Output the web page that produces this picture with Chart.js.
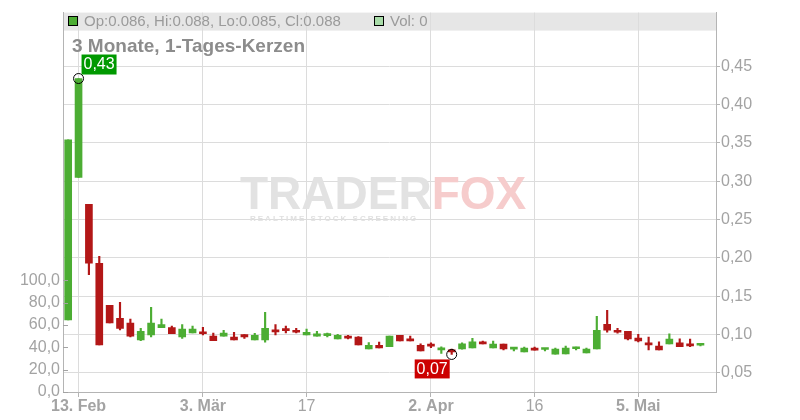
<!DOCTYPE html>
<html>
<head>
<meta charset="utf-8">
<script src="https://cdn.jsdelivr.net/npm/chart.js@4.4.1/dist/chart.umd.min.js"></script>
<style>
  html, body { margin: 0; padding: 0; background: #fff; }
  canvas { display: block; }
</style>
</head>
<body>
<canvas id="chartCanvas" width="800" height="420"></canvas>
<script>
// trading days 12.02. - 13.05.
const dates = ['12.02','13.02','14.02','17.02','18.02','19.02','20.02','21.02','24.02','25.02','26.02','27.02','28.02',
  '03.03','04.03','05.03','06.03','07.03','10.03','11.03','12.03','13.03','14.03','17.03','18.03','19.03','20.03','21.03',
  '24.03','25.03','26.03','27.03','28.03','31.03','01.04','02.04','03.04','04.04','07.04','08.04','09.04','10.04','11.04',
  '14.04','15.04','16.04','17.04','22.04','23.04','24.04','25.04','28.04','29.04','30.04','02.05','05.05','06.05','07.05',
  '08.05','09.05','12.05','13.05'];

const opens = [0.119,0.305,0.270,0.193,0.138,0.121,0.115,0.093,0.0995,0.109,0.109,0.097,0.102,
  0.1035,0.098,0.098,0.0965,0.100,0.093,0.093,0.104,0.1055,0.1056,0.0995,0.098,0.0985,0.0943,0.098,
  0.0965,0.0813,0.086,0.084,0.099,0.0935,0.086,0.0865,0.080,0.0792,0.0813,0.0826,0.090,0.0826,0.0874,
  0.081,0.0774,0.0822,0.0805,0.0744,0.0748,0.0814,0.076,0.0813,0.1134,0.1056,0.1043,0.0952,0.089,0.0848,
  0.0878,0.089,0.0878,0.086];
const highs = [0.354,0.434,0.270,0.202,0.138,0.142,0.120,0.108,0.1355,0.120,0.111,0.113,0.111,
  0.1095,0.102,0.1055,0.103,0.100,0.1017,0.129,0.113,0.111,0.108,0.107,0.104,0.102,0.1004,0.099,
  0.0974,0.0896,0.090,0.0978,0.099,0.098,0.088,0.089,0.084,0.081,0.089,0.095,0.0913,0.0913,0.0874,
  0.0822,0.0835,0.0835,0.081,0.0822,0.0848,0.0835,0.0822,0.1238,0.1316,0.108,0.1043,0.1004,0.0965,0.0904,
  0.1008,0.0943,0.094,0.088];
const lows = [0.119,0.305,0.178,0.0865,0.115,0.106,0.097,0.092,0.097,0.109,0.101,0.095,0.102,
  0.0995,0.092,0.098,0.093,0.095,0.093,0.090,0.0995,0.102,0.102,0.0995,0.098,0.097,0.0943,0.0943,
  0.0865,0.0813,0.0826,0.084,0.0917,0.0917,0.0787,0.083,0.0753,0.074,0.081,0.0826,0.0878,0.0826,0.080,
  0.0787,0.0774,0.0796,0.0787,0.0744,0.0748,0.080,0.076,0.0813,0.103,0.1017,0.093,0.0904,0.080,0.080,
  0.0878,0.084,0.084,0.085];
const closes = [0.354,0.434,0.193,0.0865,0.115,0.108,0.098,0.104,0.115,0.113,0.101,0.107,0.107,
  0.101,0.092,0.102,0.093,0.097,0.099,0.108,0.1035,0.105,0.103,0.103,0.101,0.0995,0.099,0.0953,
  0.0865,0.086,0.0826,0.0978,0.0917,0.0917,0.0787,0.0848,0.081,0.0774,0.0878,0.0904,0.0878,0.0874,0.0813,
  0.082,0.0822,0.0796,0.081,0.081,0.0822,0.0818,0.081,0.1056,0.1056,0.103,0.0943,0.0917,0.0865,0.080,
  0.094,0.084,0.0852,0.088];
const volumes = dates.map(() => 0);

const xTickIdx = [1, 13, 23, 35, 45, 55];
const xTickLabels = ['13. Feb', '3. Mär', '17', '2. Apr', '16', '5. Mai'];
const xTickBold = [true, true, false, true, false, true];
const priceTicks = [0.05, 0.10, 0.15, 0.20, 0.25, 0.30, 0.35, 0.40, 0.45];
const volTicks = [0, 20, 40, 60, 80, 100];

const GREEN = '#4cad33';
const RED = '#b31717';
const GRID = '#dcdcdc';
const AXIS = '#b4b4b4';
const TXT = '#a3a3a3';
const FONT = '"Liberation Sans", Arial, sans-serif';

const colors = opens.map((o, i) => closes[i] >= o ? GREEN : RED);
const idx = dates.map((d, i) => i);

// hi/lo markers with labels
const hiIdx = highs.indexOf(Math.max(...highs));
const loIdx = lows.indexOf(Math.min(...lows));

const fmt = (v, d) => v.toFixed(d).replace('.', ',');

const decorPlugin = {
  id: 'decor',
  beforeDraw(chart) {
    const c = chart.ctx;
    const a = chart.chartArea;
    c.save();
    c.fillStyle = '#e6e6e6';
    c.fillRect(a.left, a.top, a.right - a.left, 18);
    c.restore();
  },
  beforeDatasetsDraw(chart) {
    // watermark
    const c = chart.ctx;
    c.save();
    c.font = 'bold 46px ' + FONT;
    c.textBaseline = 'alphabetic';
    c.fillStyle = '#e2e2e2';
    c.fillText('TRADER', 240, 209);
    const w = c.measureText('TRADER').width;
    c.fillStyle = '#f6cccc';
    c.fillText('FOX', 240 + w, 209);
    c.font = 'bold 8px ' + FONT;
    c.fillStyle = '#e0e0e0';
    c.letterSpacing = '2px';
    c.fillText('REALTIME STOCK SCREENING', 250, 221);
    c.restore();
  },
  afterDraw(chart) {
    const c = chart.ctx;
    const a = chart.chartArea;
    const xs = chart.scales.x, ys = chart.scales.y, vs = chart.scales.vol;
    c.save();
    // volume axis inner ticks
    c.strokeStyle = TXT;
    c.lineWidth = 1;
    volTicks.forEach(v => {
      const y = Math.round(vs.getPixelForValue(v)) + 0.5;
      c.beginPath(); c.moveTo(a.left, y); c.lineTo(a.left + 5, y); c.stroke();
    });
    // legend band text
    c.font = '15px ' + FONT;
    c.textBaseline = 'middle';
    const last = opens.length - 1;
    c.fillStyle = GREEN; c.fillRect(68.5, 16.5, 9, 9);
    c.strokeStyle = '#000'; c.strokeRect(68.5, 16.5, 9, 9);
    c.fillStyle = '#9a9a9a';
    c.fillText('Op:' + opens[last].toFixed(3) + ', Hi:' + highs[last].toFixed(3) +
      ', Lo:' + lows[last].toFixed(3) + ', Cl:' + closes[last].toFixed(3), 84, 21.5);
    c.fillStyle = '#a9dca9'; c.fillRect(374.5, 16.5, 9, 9);
    c.strokeRect(374.5, 16.5, 9, 9);
    c.fillStyle = '#9a9a9a';
    c.fillText('Vol: ' + volumes[last], 390, 21.5);
    // title
    c.font = 'bold 19px ' + FONT;
    c.fillStyle = '#8c8c8c';
    c.fillText('3 Monate, 1-Tages-Kerzen', 72, 47);
    // high marker
    let cx = xs.getPixelForValue(hiIdx), cy = ys.getPixelForValue(highs[hiIdx]);
    c.beginPath(); c.arc(cx, cy, 5, 0, Math.PI * 2);
    c.strokeStyle = '#000'; c.stroke();
    c.fillStyle = '#009900';
    c.fillRect(cx + 3, cy - 24, 35, 20);
    c.fillStyle = '#fff'; c.font = '16px ' + FONT;
    c.textAlign = 'center';
    c.fillText(fmt(highs[hiIdx], 2), cx + 20.5, cy - 13.5);
    // low marker
    cx = xs.getPixelForValue(loIdx); cy = ys.getPixelForValue(lows[loIdx]);
    c.beginPath(); c.arc(cx, cy, 5, 0, Math.PI * 2);
    c.strokeStyle = '#000'; c.stroke();
    c.fillStyle = '#cc0000';
    c.fillRect(cx - 37, cy + 5, 35, 19);
    c.fillStyle = '#fff';
    c.fillText(fmt(lows[loIdx], 2), cx - 19.5, cy + 15);
    c.restore();
  }
};

const ctx = document.getElementById('chartCanvas').getContext('2d');
new Chart(ctx, {
  type: 'bar',
  data: {
    datasets: [{
      label: 'Kerzen',
      data: idx.map(i => ({ x: i, y: [opens[i], closes[i]] })),
      backgroundColor: colors,
      barThickness: 7,
      minBarLength: 2,
      grouped: false,
      order: 1,
      yAxisID: 'y'
    }, {
      label: 'Dochte',
      data: idx.map(i => ({ x: i, y: [lows[i], highs[i]] })),
      backgroundColor: colors,
      barThickness: 1.5,
      minBarLength: 1,
      grouped: false,
      order: 2,
      yAxisID: 'y'
    }]
  },
  options: {
    responsive: false,
    animation: false,
    devicePixelRatio: 1,
    layout: { padding: { top: 12, left: 0, right: 0, bottom: 0 } },
    plugins: { legend: { display: false }, tooltip: { enabled: false } },
    scales: {
      x: {
        type: 'linear',
        min: -0.5,
        max: 62.5,
        offset: false,
        grid: { offset: false, color: GRID, tickLength: 5, tickColor: AXIS },
        border: { color: AXIS },
        afterBuildTicks: s => { s.ticks = xTickIdx.map(v => ({ value: v })); },
        afterFit: s => { s.height = 28; },
        ticks: {
          autoSkip: false,
          maxRotation: 0,
          padding: 0,
          color: TXT,
          font: c => ({ family: FONT, size: 16, weight: xTickBold[c.index] ? 'bold' : 'normal' }),
          callback: v => xTickLabels[xTickIdx.indexOf(v)]
        }
      },
      y: {
        position: 'right',
        min: 0.025,
        max: 0.52,
        grid: { color: GRID, tickLength: 4, tickColor: AXIS },
        border: { color: AXIS },
        afterBuildTicks: s => { s.ticks = priceTicks.map(v => ({ value: v })); },
        afterFit: s => { s.width = 84; },
        ticks: {
          padding: 1,
          color: TXT,
          font: { family: FONT, size: 16 },
          callback: v => fmt(v, 2)
        }
      },
      vol: {
        position: 'left',
        min: 0,
        max: 340,
        grid: { drawOnChartArea: false, tickLength: 0 },
        border: { color: AXIS },
        afterBuildTicks: s => { s.ticks = volTicks.map(v => ({ value: v })); },
        afterFit: s => { s.width = 63; },
        ticks: {
          padding: 3,
          color: TXT,
          font: { family: FONT, size: 16 },
          callback: v => fmt(v, 1)
        }
      }
    }
  },
  plugins: [decorPlugin]
});
</script>
</body>
</html>
